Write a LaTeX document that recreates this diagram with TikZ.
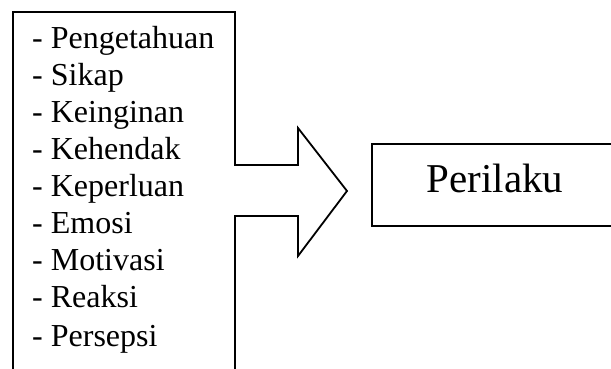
\documentclass[tikz,border=0pt]{standalone}
\usepackage{fontspec}
\setmainfont{Liberation Serif}
\begin{document}
\begin{tikzpicture}[x=1pt,y=-1pt,
  line/.style={draw=black,line width=1.8pt},
  item/.style={anchor=base west,inner sep=0pt,font=\fontsize{32}{32}\selectfont},
  big/.style={anchor=base,inner sep=0pt,font=\fontsize{41}{41}\selectfont}]
\clip (0,0) rectangle (611,369);
% outline of list box with arrow
\coordinate (bl) at (13,372);
\coordinate (tl) at (13,12);
\coordinate (tr) at (235,12);
\coordinate (n1) at (235,165);
\coordinate (n2) at (298,165);
\coordinate (ht) at (298,128);
\coordinate (tip) at (347,191);
\coordinate (hb) at (298,256);
\coordinate (n3) at (298,216);
\coordinate (n4) at (235,216);
\coordinate (br) at (235,372);
\draw[line,line join=miter] (bl) -- (tl) -- (tr) -- (n1) -- (n2) -- (ht) -- (tip) -- (hb) -- (n3) -- (n4) -- (br);
% list items
\node[item] (i1) at (32,49) {- Pengetahuan};
\node[item] (i2) at (32,86) {- Sikap};
\node[item] (i3) at (32,123) {- Keinginan};
\node[item] (i4) at (32,159) {- Kehendak};
\node[item] (i5) at (32,196) {- Keperluan};
\node[item] (i6) at (32,233) {- Emosi};
\node[item] (i7) at (32,270) {- Motivasi};
\node[item] (i8) at (32,307) {- Reaksi};
\node[item] (i9) at (32,346) {- Persepsi};
% result box
\draw[line] (625,144) -- (372,144) -- (372,226) -- (625,226);
\node[big] (res) at (495,192) {Perilaku};
\end{tikzpicture}
\end{document}
